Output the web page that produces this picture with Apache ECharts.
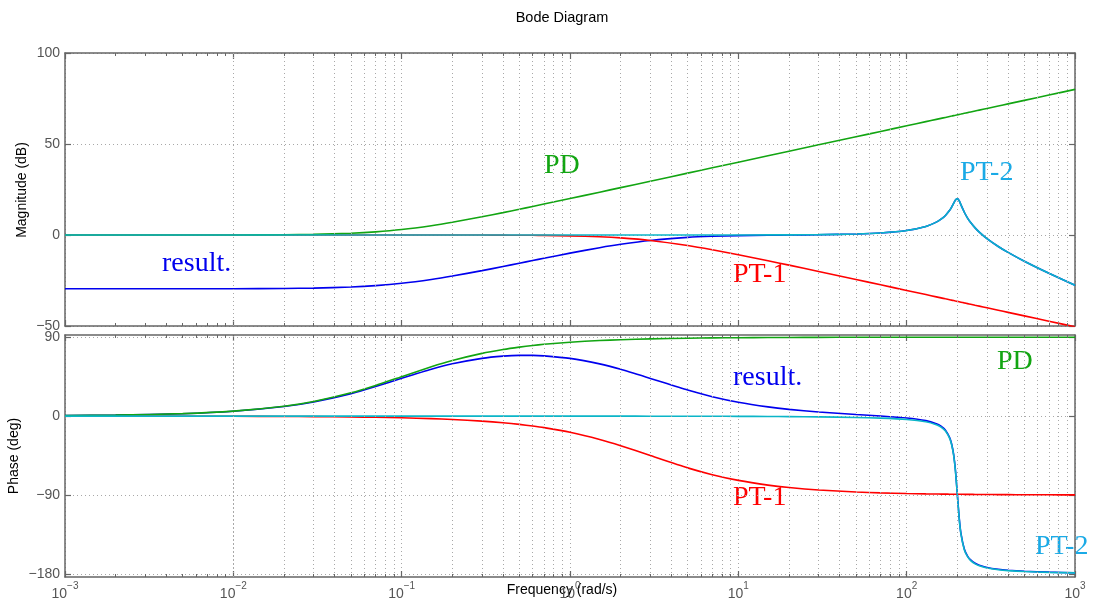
<!DOCTYPE html>
<html>
<head>
<meta charset="utf-8">
<title>Bode Diagram</title>
<script src="https://cdn.jsdelivr.net/npm/echarts@6/dist/echarts.min.js"></script>
<style>
  html, body { margin: 0; padding: 0; background: #fff; }
  #chart { width: 1096px; height: 608px; }
</style>
</head>
<body>
<div id="chart"></div>
<script>
// frequencies in rad/s
var freq = [0.001, 0.002, 0.005, 0.01, 0.02, 0.03, 0.05, 0.07, 0.1, 0.15, 0.2, 0.3, 0.4, 0.5, 0.6, 0.7,
  1, 1.5, 2, 3, 5, 7, 10, 15, 20, 30, 50, 70, 100, 130, 150, 160, 170, 180, 185, 190, 195, 200,
  205, 210, 220, 230, 240, 255, 270, 300, 350, 400, 500, 700, 1000];

// magnitude (dB)
var magPD = [0, 0, 0.01, 0.04, 0.17, 0.37, 0.97, 1.73, 3.01, 5.12, 6.99, 10.00, 12.30, 14.15, 15.68, 16.99,
  20.04, 23.54, 26.03, 29.54, 33.98, 36.90, 40.00, 43.52, 46.02, 49.54, 53.98, 56.90, 60.00, 62.28, 63.52,
  64.08, 64.61, 65.11, 65.34, 65.58, 65.80, 66.02, 66.24, 66.44, 66.85, 67.23, 67.60, 68.13, 68.63, 69.54,
  70.88, 72.04, 73.98, 76.90, 80.00];
var magPT1 = [0, 0, 0, 0, 0, 0, 0, 0, 0, -0.01, -0.02, -0.04, -0.08, -0.12, -0.17, -0.23,
  -0.46, -0.97, -1.60, -3.01, -5.77, -8.09, -10.83, -14.15, -16.57, -20.04, -24.45, -27.37, -30.46, -32.74,
  -33.98, -34.54, -35.07, -35.56, -35.80, -36.03, -36.26, -36.48, -36.69, -36.90, -37.31, -37.69, -38.06,
  -38.59, -39.08, -40.00, -41.34, -42.50, -44.44, -47.36, -50.46];
var magPT2 = [0, 0, 0, 0, 0, 0, 0, 0, 0, 0, 0, 0, 0, 0, 0, 0,
  0, 0, 0, 0, 0.01, 0.01, 0.02, 0.05, 0.09, 0.20, 0.56, 1.13, 2.48, 4.71, 7.06, 8.67, 10.75, 13.55, 15.32,
  17.32, 19.23, 20.00, 18.84, 16.67, 12.50, 9.31, 6.82, 3.90, 1.58, -2.00, -6.32, -9.56, -14.41, -21.03, -27.61];
var magRes = [-29.54, -29.54, -29.53, -29.50, -29.37, -29.17, -28.57, -27.81, -26.53, -24.43, -22.57, -19.58,
  -17.32, -15.51, -14.03, -12.78, -9.96, -6.97, -5.11, -3.01, -1.33, -0.72, -0.35, -0.12, 0.00, 0.16, 0.55,
  1.12, 2.48, 4.71, 7.06, 8.67, 10.75, 13.56, 15.32, 17.33, 19.23, 20.00, 18.85, 16.67, 12.50, 9.31, 6.82,
  3.90, 1.59, -2.00, -6.32, -9.56, -14.41, -21.03, -27.61];

// phase (deg)
var phPD = [0.57, 1.15, 2.86, 5.71, 11.31, 16.70, 26.57, 34.99, 45.00, 56.31, 63.43, 71.57, 75.96, 78.69,
  80.54, 81.87, 84.29, 86.19, 87.14, 88.09, 88.85, 89.18, 89.43, 89.62, 89.71, 89.81, 89.89, 89.92, 89.94,
  89.96, 89.96, 89.96, 89.97, 89.97, 89.97, 89.97, 89.97, 89.97, 89.97, 89.97, 89.97, 89.98, 89.98, 89.98,
  89.98, 89.98, 89.98, 89.99, 89.99, 89.99, 89.99];
var phPT1 = [-0.02, -0.04, -0.10, -0.19, -0.38, -0.57, -0.95, -1.34, -1.91, -2.86, -3.81, -5.71, -7.59,
  -9.46, -11.31, -13.13, -18.43, -26.57, -33.69, -45.00, -59.04, -66.80, -73.30, -78.69, -81.47, -84.29,
  -86.57, -87.55, -88.28, -88.68, -88.85, -88.93, -88.99, -89.05, -89.07, -89.10, -89.12, -89.14, -89.16,
  -89.18, -89.22, -89.25, -89.28, -89.33, -89.36, -89.43, -89.51, -89.57, -89.66, -89.75, -89.83];
var phPT2 = [0, 0, 0, 0, 0, 0, 0, 0, 0, 0, 0, 0, -0.01, -0.01, -0.02, -0.02,
  -0.03, -0.04, -0.06, -0.09, -0.14, -0.20, -0.29, -0.43, -0.58, -0.88, -1.53, -2.28, -3.81, -6.42, -9.73,
  -12.53, -17.03, -25.35, -32.65, -44.26, -63.14, -90.00, -116.29, -134.31, -152.35, -160.37, -164.74,
  -168.48, -170.68, -173.16, -175.15, -176.19, -177.27, -178.22, -178.81];
var phRes = [0.55, 1.11, 2.76, 5.52, 10.93, 16.13, 25.62, 33.65, 43.09, 53.45, 59.62, 65.86, 68.36, 69.22,
  69.21, 68.72, 65.83, 59.58, 53.39, 43.00, 29.67, 22.18, 15.84, 10.50, 7.66, 4.64, 1.79, 0.09, -2.15, -5.14,
  -8.62, -11.50, -16.05, -24.43, -31.75, -43.39, -62.29, -89.17, -115.48, -133.52, -151.60, -159.64, -164.04,
  -167.83, -170.06, -172.61, -174.68, -175.77, -176.94, -177.98, -178.65];

var magTicks = [-50, 0, 50, 100];
var phaseTicks = [-180, -90, 0, 90];
var decades = [0.001, 0.01, 0.1, 1, 10, 100];

var cGreen = '#12a512', cRed = '#ff0000', cBlue = '#0000ee', cCyan = '#0bb5c8';
var gray = '#666', txtGray = '#555', gridGray = '#a8a8a8';
var dots = [1, 3];
var sans = 'Liberation Sans', serif = 'Liberation Serif';

// minor log grid positions 2..9 in each decade
var minorX = [];
decades.forEach(function (d) {
  for (var k = 2; k <= 9; k++) minorX.push(+(k * d).toPrecision(3));
});

function minus(v) { return v < 0 ? '\u2212' + (-v) : '' + v; }

function xAx(grid, pos, labels) {
  return {
    type: 'log', logBase: 10, min: 0.001, max: 1000, splitNumber: 6, gridIndex: grid, position: pos,
    axisLine: { show: true, onZero: false, lineStyle: { color: gray, width: 1.5 } },
    axisTick: { show: true, inside: true, length: 6, lineStyle: { color: gray, width: 1.2 } },
    splitLine: { show: pos === 'bottom', lineStyle: { color: gridGray, type: dots, width: 1 } },
    minorTick: { show: false },
    axisLabel: labels ? {
      show: true, margin: 4, showMinLabel: true, showMaxLabel: true,
      formatter: function (v) {
        var e = Math.round(Math.log10(v));
        return '{b|10}{e|' + minus(e) + '}';
      },
      rich: {
        b: { fontSize: 14, fontFamily: sans, color: txtGray, lineHeight: 20, verticalAlign: 'bottom' },
        e: { fontSize: 10, fontFamily: sans, color: txtGray, lineHeight: 20, verticalAlign: 'top' }
      }
    } : { show: false }
  };
}

function yAx(grid, pos, min, max, ticks, labels) {
  return {
    type: 'value', gridIndex: grid, position: pos, min: min, max: max,
    axisLine: { show: true, onZero: false, lineStyle: { color: gray, width: 1.5 } },
    axisTick: { show: true, inside: true, length: 6, customValues: ticks, lineStyle: { color: gray, width: 1.2 } },
    splitLine: { show: pos === 'left', lineStyle: { color: gridGray, type: dots, width: 1 } },
    axisLabel: labels ? {
      show: true, customValues: ticks, margin: 5, fontSize: 14, fontFamily: sans, color: txtGray,
      formatter: function (v) { return minus(v); }
    } : { show: false }
  };
}

// helper series that carries minor grid lines and minor ticks
function minorSeries(xi, yi, ymin, ymax, tickLen) {
  var items = minorX.map(function (x) { return { xAxis: x }; });
  minorX.forEach(function (x) {
    var st = { color: gray, type: 'solid', width: 1 };
    items.push([{ coord: [x, ymin], lineStyle: st }, { coord: [x, ymin + tickLen] }]);
    items.push([{ coord: [x, ymax], lineStyle: st }, { coord: [x, ymax - tickLen] }]);
  });
  return {
    type: 'line', xAxisIndex: xi, yAxisIndex: yi, data: [], silent: true, z: 1,
    markLine: {
      silent: true, symbol: ['none', 'none'], animation: false, label: { show: false },
      lineStyle: { color: gridGray, type: dots, width: 1 },
      emphasis: { disabled: true },
      data: items
    }
  };
}

function line(name, xi, yi, vals, color) {
  return {
    name: name, type: 'line', xAxisIndex: xi, yAxisIndex: yi, z: 3,
    data: freq.map(function (f, i) { return [f, vals[i]]; }),
    showSymbol: false, symbol: 'none', smooth: 0.2,
    lineStyle: { color: color, width: 1.6 }, itemStyle: { color: color },
    emphasis: { disabled: true }
  };
}

function note(text, x, y, color) {
  return {
    type: 'text', x: x, y: y, silent: true,
    style: { text: text, fill: color, fontSize: 28, fontFamily: serif, align: 'left', verticalAlign: 'middle' }
  };
}

function label(text, x, y, rot, size) {
  return {
    type: 'text', x: x, y: y, rotation: rot || 0, silent: true,
    style: { text: text, fill: '#000', fontSize: size || 14, fontFamily: sans, align: 'center', verticalAlign: 'middle' }
  };
}

var chart = echarts.init(document.getElementById('chart'), null, { renderer: 'canvas' });
chart.setOption({
  animation: false,
  backgroundColor: '#fff',
  grid: [
    { left: 65, right: 21, top: 53, height: 273, outerBoundsMode: 'none' },
    { left: 65, right: 21, top: 335, height: 242, outerBoundsMode: 'none' }
  ],
  xAxis: [xAx(0, 'bottom', false), xAx(0, 'top', false), xAx(1, 'bottom', true), xAx(1, 'top', false)],
  yAxis: [
    yAx(0, 'left', -50, 100, magTicks, true), yAx(0, 'right', -50, 100, magTicks, false),
    yAx(1, 'left', -183.5, 92.5, phaseTicks, true), yAx(1, 'right', -183.5, 92.5, phaseTicks, false)
  ],
  series: [
    minorSeries(0, 0, -50, 100, 1.65),
    minorSeries(2, 2, -183.5, 92.5, 3.4),
    line('result.', 0, 0, magRes, cBlue),
    line('PT-1', 0, 0, magPT1, cRed),
    line('PD', 0, 0, magPD, cGreen),
    line('PT-2', 0, 0, magPT2, cCyan),
    line('result.', 2, 2, phRes, cBlue),
    line('PT-1', 2, 2, phPT1, cRed),
    line('PD', 2, 2, phPD, cGreen),
    line('PT-2', 2, 2, phPT2, cCyan)
  ],
  graphic: [
    label('Bode Diagram', 562, 18, 0, 14.5),
    label('Magnitude (dB)', 22, 190, Math.PI / 2),
    label('Phase (deg)', 14, 456, Math.PI / 2),
    label('Frequency (rad/s)', 562, 590),
    note('PD', 544, 165.5, cGreen),
    note('PT-2', 960, 172.5, '#1aaae6'),
    note('result.', 162, 263.5, cBlue),
    note('PT-1', 733, 274.5, cRed),
    note('result.', 733, 377.5, cBlue),
    note('PD', 997, 361.5, cGreen),
    note('PT-1', 733, 497.5, cRed),
    note('PT-2', 1035, 546.5, '#1aaae6')
  ]
});
</script>
</body>
</html>
